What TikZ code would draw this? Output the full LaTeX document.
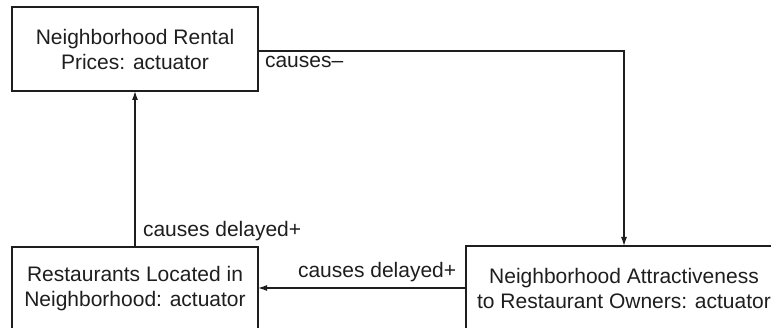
\documentclass[tikz,border=0pt]{standalone}
\usepackage{fontspec}
\setmainfont{Liberation Sans}
\usetikzlibrary{arrows.meta}
\definecolor{ink}{HTML}{1E1E1E}
\begin{document}
\begin{tikzpicture}[x=1pt,y=-1pt,
  every node/.style={inner sep=0pt,outer sep=0pt,text=ink,font=\fontsize{21}{25}\selectfont},
  box/.style={draw=ink,line width=1.2pt,rectangle,align=center,minimum height=84pt},
  arr/.style={draw=ink,line width=1.2pt,-{Latex[length=9pt,width=6pt]}},
  lbl/.style={anchor=base west}]
\useasboundingbox (0,0) rectangle (771,328);
\clip (0,0) rectangle (771,328);
\node[box,minimum width=246pt] (top) at (135,49) {Neighborhood Rental\\Prices: actuator};
\node[box,minimum width=246pt] (left) at (135,289) {Restaurants Located in\\Neighborhood: actuator};
\node[box,minimum width=316pt] (right) at (624,288) {Neighborhood Attractiveness\\to Restaurant Owners: actuator};
\draw[arr] ([yshift=-2pt]top.east) -- ([yshift=-2pt]top.east -| right.north) -- (right.north);
\draw[arr] (left.north) -- (top.south);
\draw[arr] (right.west) -- (right.west -| left.east);
\node[lbl] (l1) at (265,68) {causes–};
\node[lbl] (l2) at (143,237) {causes delayed+};
\node[lbl] (l3) at (298,278) {causes delayed+};
\end{tikzpicture}
\end{document}
